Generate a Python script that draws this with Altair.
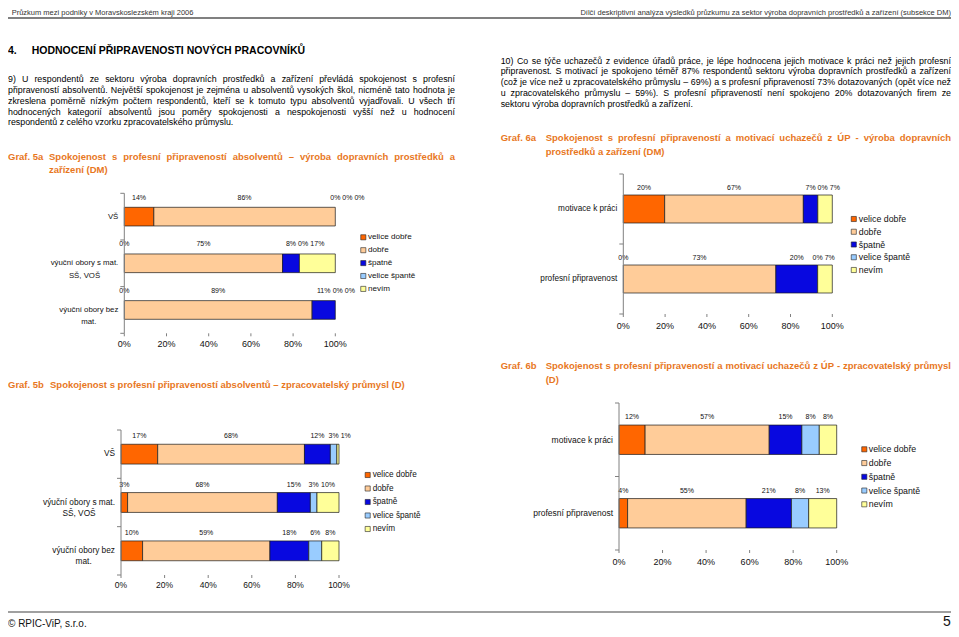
import altair as alt
import pandas as pd

W, H = 943, 621
FONT = "Liberation Sans"
ORANGE = "#E8771E"
GRAY = "#808080"

# ---------------- data ----------------
levels = ["velice dobře", "dobře", "špatně", "velice špantě", "nevím"]
level_colors = ["#FF6600", "#FFCC99", "#0808E0", "#99CCFF", "#FFFF99"]
ticks = [0, 0.2, 0.4, 0.6, 0.8, 1.0]
tick_labels = ["0%", "20%", "40%", "60%", "80%", "100%"]

cats_5a = ["VŠ", "výuční obory s mat.\nSŠ, VOŠ", "výuční obory bez\nmat."]
g5a_vs = [14, 86, 0, 0, 0]
g5a_s_mat = [0, 75, 8, 0, 17]
g5a_bez_mat = [0, 89, 11, 0, 0]

cats_6a = ["motivace k práci", "profesní připravenost"]
g6a_motivace = [20, 67, 7, 0, 7]
g6a_pripravenost = [0, 73, 20, 0, 7]

cats_5b = ["VŠ", "výuční obory s mat.\nSŠ, VOŠ", "výuční obory bez\nmat."]
g5b_vs = [17, 68, 12, 3, 1]
g5b_s_mat = [3, 68, 15, 3, 10]
g5b_bez_mat = [10, 59, 18, 6, 8]

cats_6b = ["motivace k práci", "profesní připravenost"]
g6b_motivace = [12, 57, 15, 8, 8]
g6b_pripravenost = [4, 55, 21, 8, 13]

header_left = "Průzkum mezi podniky v Moravskoslezském kraji 2006"
header_right = "Dílčí deskriptivní analýza výsledků průzkumu za sektor výroba dopravních prostředků  a zařízení (subsekce DM)"
heading_num = "4."
heading = "HODNOCENÍ PŘIPRAVENOSTI NOVÝCH PRACOVNÍKŮ"
para9 = [
    "9) U respondentů ze sektoru výroba dopravních prostředků a zařízení převládá spokojenost s profesní",
    "připraveností absolventů. Největší spokojenost je zejména u absolventů vysokých škol, nicméně tato hodnota je",
    "zkreslena poměrně nízkým počtem respondentů, kteří se k tomuto typu absolventů vyjadřovali. U všech tří",
    "hodnocených kategorií absolventů jsou poměry spokojenosti a nespokojenosti vyšší než u hodnocení",
    "respondentů z celého vzorku zpracovatelského průmyslu.",
]
para10 = [
    "10) Co se týče uchazečů z evidence úřadů práce, je lépe hodnocena jejich motivace k práci než jejich profesní",
    "připravenost. S motivací je spokojeno téměř 87% respondentů sektoru výroba dopravních prostředků a zařízení",
    "(což je více než u zpracovatelského průmyslu – 69%) a s profesní připraveností 73% dotazovaných (opět více než",
    "u zpracovatelského průmyslu – 59%). S profesní připraveností není spokojeno 20% dotazovaných firem ze",
    "sektoru výroba dopravních prostředků a zařízení.",
]
t5a_label = "Graf. 5a"
t5a = ["Spokojenost s profesní připraveností absolventů – výroba dopravních prostředků a",
       "zařízení (DM)"]
t6a_label = "Graf. 6a"
t6a = ["Spokojenost s profesní připraveností a motivací uchazečů z ÚP - výroba dopravních",
       "prostředků a zařízení (DM)"]
t5b_label = "Graf. 5b"
t5b = ["Spokojenost s profesní připraveností absolventů – zpracovatelský průmysl (D)"]
t6b_label = "Graf. 6b"
t6b = ["Spokojenost s profesní připraveností a motivací uchazečů z ÚP - zpracovatelský průmysl",
       "(D)"]
footer_left = "© RPIC-ViP, s.r.o."
footer_page = "5"

# ---------------- text metrics (Arial / Liberation Sans) ----------------
REG = {}
for chars, w in [("ijl", 222), (" ,.:;!ftíIÍ", 278), ("()-rř", 333),
                 ("cčksšvýxyzžJ", 500), ("abdeéěghnňopquúůáó0123456789–L", 556),
                 ("FTZ", 611), ("ABEKPSŠVXYÝÉ", 667), ("CČDHNRŘUÚŮ", 722),
                 ("©", 737), ("GOQ", 778), ("mM", 833), ("%", 889), ("W", 944)]:
    for ch in chars:
        REG[ch] = w
BOLD = {}
for chars, w in [(" ,.:;!iíjlIÍ", 278), ("()-ftť", 333), ("rř", 389), ("zž", 500),
                 ("acčeéěkšsvýxy0123456789–áJ", 556), ("bdghnňopquůúóFTZL", 611),
                 ("EPSŠVXYÝ", 667), ("ABCČDHKNRŘUÚŮ", 722), ("GOQ", 778),
                 ("M", 833), ("m%", 889), ("W", 944)]:
    for ch in chars:
        BOLD[ch] = w


def text_w(s, size, bold=False):
    tbl = BOLD if bold else REG
    return sum(tbl.get(ch, 556) for ch in s) / 1000.0 * size


def words_layer(lines, left, right, y0, dy, size, bold=False, color="#000000", justify=True):
    rows = []
    space = text_w(" ", size, bold)
    for i, line in enumerate(lines):
        words = line.split()
        ws = [text_w(w, size, bold) for w in words]
        if justify and i < len(lines) - 1 and len(words) > 1:
            gap = max((right - left - sum(ws)) / (len(words) - 1), 0.6 * space)
        else:
            gap = space
        x = left
        for w, wd in zip(words, ws):
            rows.append({"w": w, "x": x, "y": y0 + i * dy})
            x += wd + gap
    return alt.Chart(pd.DataFrame(rows)).mark_text(
        align="left", baseline="middle", font=FONT, fontSize=size,
        fontWeight="bold" if bold else "normal", color=color
    ).encode(x=alt.X("x:Q", scale=None), y=alt.Y("y:Q", scale=None), text="w:N")


def single_text(txt, x, y, size, bold=False, color="#000000", align="left"):
    return alt.Chart(pd.DataFrame({"t": [txt]})).mark_text(
        align=align, baseline="middle", font=FONT, fontSize=size,
        fontWeight="bold" if bold else "normal", color=color
    ).encode(x=alt.value(x), y=alt.value(y), text="t:N")


color_scale = alt.Scale(domain=levels, range=level_colors)


def chart_layers(cats, rows, s):
    x0, x1 = s["x0"] - 8, s["x1"] - 8
    yt, yb = s["ytop"] - 8, s["ybot"] - 8
    xs = alt.Scale(domain=[0, 1], range=[x0, x1], nice=False, zero=False)
    ys = alt.Scale(domain=cats, range=[yt, yb], paddingInner=s["pad"], paddingOuter=s["pad"] / 2)
    seg, lab = [], []
    for cat, vals in zip(cats, rows):
        tot = float(sum(vals))
        acc = 0.0
        prev_px, prev_w = None, None
        for lev, v in zip(levels, vals):
            st, en = acc / tot, (acc + v) / tot
            acc += v
            if v > 0:
                seg.append({"cat": cat, "level": lev, "start": st, "end": en})
            txt = f"{v}%"
            w = text_w(txt, s["val_size"])
            px = x0 + (st + en) / 2 * (x1 - x0)
            if prev_px is not None:
                px = max(px, prev_px + (prev_w + w) / 2 + 2)
            lab.append({"cat": cat, "txt": txt, "pos": (px - x0) / (x1 - x0)})
            prev_px, prev_w = px, w
    layers = []
    layers.append(alt.Chart(pd.DataFrame(seg)).mark_bar(stroke="#1a1a1a", strokeWidth=0.7).encode(
        x=alt.X("start:Q", scale=xs, axis=None), x2="end:Q",
        y=alt.Y("cat:N", scale=ys, axis=None),
        color=alt.Color("level:N", scale=color_scale, legend=None)))
    layers.append(alt.Chart(pd.DataFrame(lab)).mark_text(
        font=FONT, fontSize=s["val_size"], dy=s["lab_dy"], color="#111111").encode(
        x=alt.X("pos:Q", scale=xs, axis=None), y=alt.Y("cat:N", scale=ys, axis=None), text="txt:N"))
    # value axis line on the left
    layers.append(alt.Chart(pd.DataFrame({"v": [0]})).mark_rule(color=GRAY, strokeWidth=1).encode(
        x=alt.X("v:Q", scale=xs, axis=None), y=alt.value(yt), y2=alt.value(yb)))
    n = len(cats)
    layers.append(alt.Chart(pd.DataFrame({"k": list(range(n + 1))})).mark_rule(color=GRAY, strokeWidth=1).encode(
        y=alt.Y("k:Q", scale=alt.Scale(domain=[0, n], range=[yt, yb], nice=False, zero=False), axis=None),
        x=alt.value(x0 - 4), x2=alt.value(x0)))
    tdf = pd.DataFrame({"t": ticks, "lab": tick_labels})
    layers.append(alt.Chart(tdf).mark_rule(color=GRAY, strokeWidth=1).encode(
        x=alt.X("t:Q", scale=xs, axis=None), y=alt.value(yb), y2=alt.value(yb + 3)))
    layers.append(alt.Chart(tdf).mark_text(font=FONT, fontSize=s["tick_size"], baseline="middle", color="#111111").encode(
        x=alt.X("t:Q", scale=xs, axis=None), y=alt.value(s["tick_y"] - 8), text="lab:N"))
    # category labels
    for cat in cats:
        lines = cat.split("\n")
        maxw = max(text_w(l, s["cat_size"]) for l in lines)
        cxp = x0 - 6 - maxw / 2
        layers.append(alt.Chart(pd.DataFrame({"cat": [cat]})).mark_text(
            font=FONT, fontSize=s["cat_size"], align="center", baseline="middle",
            lineBreak="\n", lineHeight=s["cat_lh"], color="#111111").encode(
            x=alt.value(cxp), y=alt.Y("cat:N", scale=ys, axis=None), text="cat:N"))
    # legend
    ly0 = s["leg_y0"] - 8
    ls = alt.Scale(type="point", domain=levels, range=[ly0, ly0 + 4 * s["leg_step"]], padding=0)
    ldf = pd.DataFrame({"level": levels})
    layers.append(alt.Chart(ldf).mark_square(size=26, stroke="#222222", strokeWidth=0.6, opacity=1).encode(
        x=alt.value(s["leg_sq_x"] - 8), y=alt.Y("level:N", scale=ls, axis=None),
        color=alt.Color("level:N", scale=color_scale, legend=None)))
    layers.append(alt.Chart(ldf).mark_text(font=FONT, fontSize=s["leg_size"], align="left", baseline="middle", color="#111111").encode(
        x=alt.value(s["leg_tx"] - 8), y=alt.Y("level:N", scale=ls, axis=None), text="level:N"))
    return layers


spec_5a = dict(x0=124.3, x1=335.3, ytop=193.3, ybot=333.3, pad=0.6, tick_y=344.3, lab_dy=-19,
               cat_size=7.8, cat_lh=12.5, tick_size=9, val_size=7,
               leg_sq_x=363.3, leg_tx=368.0, leg_y0=237.3, leg_step=12.9, leg_size=8.1)
spec_6a = dict(x0=623.3, x1=832.3, ytop=174, ybot=314, pad=0.6, tick_y=325.7, lab_dy=-21.5,
               cat_size=8.2, cat_lh=12, tick_size=9, val_size=7,
               leg_sq_x=853.8, leg_tx=858.8, leg_y0=219, leg_step=12.75, leg_size=8.8)
spec_5b = dict(x0=121, x1=339, ytop=430, ybot=575, pad=0.59, tick_y=585, lab_dy=-17.7,
               cat_size=8.3, cat_lh=11, tick_size=8.5, val_size=7,
               leg_sq_x=367.7, leg_tx=372.7, leg_y0=475, leg_step=13.5, leg_size=8.2)
spec_6b = dict(x0=619, x1=836.7, ytop=403, ybot=550, pad=0.6, tick_y=562.3, lab_dy=-22.4,
               cat_size=8.5, cat_lh=12, tick_size=9, val_size=7,
               leg_sq_x=864.3, leg_tx=868.8, leg_y0=449.3, leg_step=13.75, leg_size=8.8)

layers = []
# header
layers.append(single_text(header_left, 3.7, 5, 7.5, color="#333333"))
layers.append(single_text(header_right, 943, 5, 7.5, color="#333333", align="right"))
layers.append(alt.Chart(pd.DataFrame({"a": [0]})).mark_rule(color=GRAY, strokeWidth=2).encode(
    x=alt.value(0), x2=alt.value(W), y=alt.value(10)))
# heading and paragraphs
layers.append(single_text(heading_num, 0, 43, 10.5, bold=True))
layers.append(single_text(heading, 23.7, 43, 10.5, bold=True))
layers.append(words_layer(para9, 0, 447, 71, 10.85, 8.85))
layers.append(words_layer(para10, 492.7, 943, 52.5, 10.85, 8.85))
# chart titles
layers.append(single_text(t5a_label, 0, 148.7, 9.5, bold=True, color=ORANGE))
layers.append(words_layer(t5a, 41, 447, 148.7, 13.3, 9.5, bold=True, color=ORANGE))
layers.append(single_text(t6a_label, 492.7, 130.3, 9.5, bold=True, color=ORANGE))
layers.append(words_layer(t6a, 537.7, 943, 130.3, 13.4, 9.5, bold=True, color=ORANGE))
layers.append(single_text(t5b_label, 0, 377, 9.5, bold=True, color=ORANGE))
layers.append(words_layer(t5b, 42, 447, 377, 13.4, 9.5, bold=True, color=ORANGE, justify=False))
layers.append(single_text(t6b_label, 492.7, 358, 9.5, bold=True, color=ORANGE))
layers.append(words_layer(t6b, 537.7, 943, 358, 14, 9.5, bold=True, color=ORANGE))
# charts
layers += chart_layers(cats_5a, [g5a_vs, g5a_s_mat, g5a_bez_mat], spec_5a)
layers += chart_layers(cats_6a, [g6a_motivace, g6a_pripravenost], spec_6a)
layers += chart_layers(cats_5b, [g5b_vs, g5b_s_mat, g5b_bez_mat], spec_5b)
layers += chart_layers(cats_6b, [g6b_motivace, g6b_pripravenost], spec_6b)
# footer
layers.append(alt.Chart(pd.DataFrame({"a": [0]})).mark_rule(color=GRAY, strokeWidth=1.5).encode(
    x=alt.value(0), x2=alt.value(W), y=alt.value(604)))
layers.append(single_text(footer_left, 0, 615.5, 10, color="#111111"))
layers.append(single_text(footer_page, 939, 614, 14, color="#111111", align="center"))

chart = alt.layer(*layers).resolve_scale(x="independent", y="independent").properties(
    width=W, height=H, padding=0, autosize=alt.AutoSizeParams(type="none"), background="white"
).configure_view(stroke=None)

chart.save("out.html", embed_options={"renderer": "svg", "actions": False})
